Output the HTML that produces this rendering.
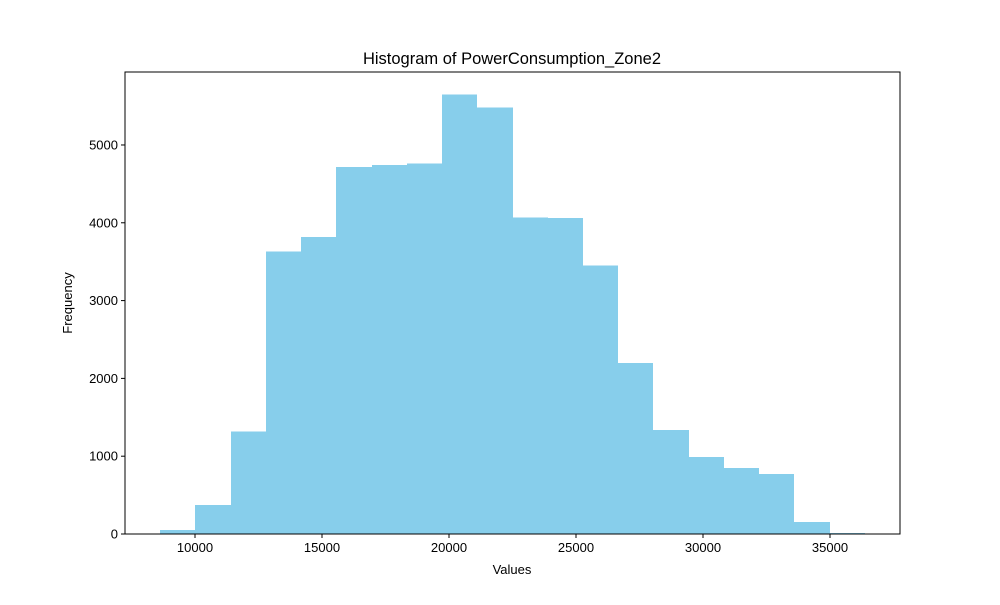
<!DOCTYPE html>
<html><head><meta charset="utf-8"><style>
body{margin:0;background:#fff;font-family:"Liberation Sans","DejaVu Sans",sans-serif;}
</style></head><body>
<svg id="chart" width="1000" height="600" xmlns="http://www.w3.org/2000/svg">
<rect width="1000" height="600" fill="#fff"/>
<text x="512" y="64" text-anchor="middle" font-size="16.5">Histogram of PowerConsumption_Zone2</text>
<g id="bars" shape-rendering="crispEdges"></g>
<g id="xticks"></g>
<g id="yticks"></g>
<rect x="125" y="72" width="775" height="462" fill="none" stroke="#000" stroke-width="1"/>
<text x="512" y="574" text-anchor="middle" font-size="13">Values</text>
<text x="72" y="303" text-anchor="middle" font-size="13" transform="rotate(-90 72 303)">Frequency</text>
</svg>
<script>
const binStart = 8631;
const binWidth = 1387;
const counts = [50,373,1320,3630,3820,4715,4740,4765,5650,5480,4070,4060,3450,2195,1335,990,850,770,155,15];
const xTickLabels = [10000,15000,20000,25000,30000,35000];
const yTickLabels = [0,1000,2000,3000,4000,5000];
const NS="http://www.w3.org/2000/svg";
const xMin=7244,xMax=37756,yMax=5938;
const L=125,R=900,T=72,B=534;
const sx=v=>L+(v-xMin)/(xMax-xMin)*(R-L);
const sy=v=>B-v/yMax*(B-T);
const bars=document.getElementById('bars');
counts.forEach((c,i)=>{
  const r=document.createElementNS(NS,'rect');
  const x0=Math.round(sx(binStart+i*binWidth)),x1=Math.round(sx(binStart+(i+1)*binWidth));
  r.setAttribute('x',x0);r.setAttribute('width',x1-x0);
  r.setAttribute('y',sy(c));r.setAttribute('height',B-sy(c));
  r.setAttribute('fill','#87ceeb');
  
  
  bars.appendChild(r);
});
const xg=document.getElementById('xticks');
xTickLabels.forEach(v=>{
  const x=sx(v);
  const l=document.createElementNS(NS,'line');
  l.setAttribute('x1',x);l.setAttribute('x2',x);l.setAttribute('y1',B);l.setAttribute('y2',B+4);l.setAttribute('stroke','#000');
  
  
  xg.appendChild(l);
  const t=document.createElementNS(NS,'text');
  t.setAttribute('x',x);t.setAttribute('y',B+18);t.setAttribute('text-anchor','middle');t.setAttribute('font-size','13');
  t.textContent=v;
  
  
  xg.appendChild(t);
});
const yg=document.getElementById('yticks');
yTickLabels.forEach(v=>{
  const y=sy(v);
  const l=document.createElementNS(NS,'line');
  l.setAttribute('x1',L-4);l.setAttribute('x2',L);l.setAttribute('y1',y);l.setAttribute('y2',y);l.setAttribute('stroke','#000');
  
  
  yg.appendChild(l);
  const t=document.createElementNS(NS,'text');
  t.setAttribute('x',L-7);t.setAttribute('y',y+4.5);t.setAttribute('text-anchor','end');t.setAttribute('font-size','13');
  t.textContent=v;
  
  
  yg.appendChild(t);
});
</script>
</body></html>
